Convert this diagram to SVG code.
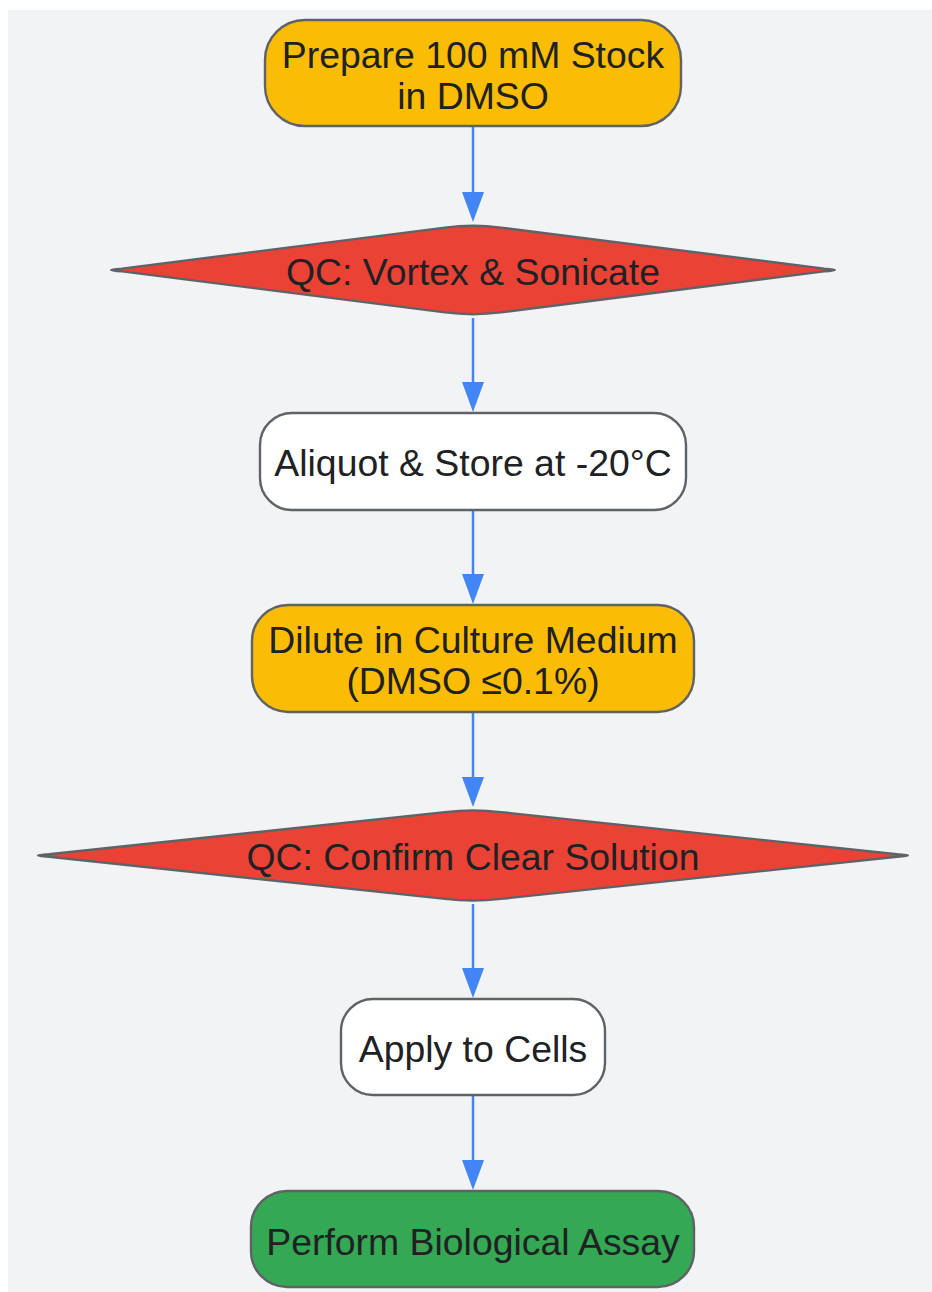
<svg xmlns="http://www.w3.org/2000/svg" width="932" height="1292" viewBox="0 0 932 1292">
<style>
.node{stroke:#5f6368;stroke-width:2.4}
.y{fill:#fbbc04}.r{fill:#ea4335}.w{fill:#ffffff}.g{fill:#34a853}
text{font-family:"Liberation Sans",Arial,sans-serif;font-size:37.4px;fill:#202124;text-anchor:middle}
.edge{stroke:#4285f4;stroke-width:2.5;fill:none}
</style>
<defs>
<marker id="ah" viewBox="0 0 30 22" refX="20" refY="11" markerWidth="30" markerHeight="22" markerUnits="userSpaceOnUse" orient="auto">
<path d="M0,0 L30,11 L0,22 Z" fill="#4285f4"/>
</marker>
</defs>
<rect x="8" y="10" width="924" height="1282" fill="#f1f3f4"/>
<g id="connectors">
<path class="edge" d="M473,127 V212" marker-end="url(#ah)"/>
<path class="edge" d="M473,318 V402" marker-end="url(#ah)"/>
<path class="edge" d="M473,511 V594" marker-end="url(#ah)"/>
<path class="edge" d="M473,713 V797" marker-end="url(#ah)"/>
<path class="edge" d="M473,904 V988" marker-end="url(#ah)"/>
<path class="edge" d="M473,1096 V1180" marker-end="url(#ah)"/>
</g>
<g id="n1">
<rect class="node y" x="265" y="20" width="416" height="106" rx="40"/>
<text x="473" y="68">Prepare 100 mM Stock</text>
<text x="473" y="109">in DMSO</text>
</g>
<g id="n2">
<path class="node r" d="M445,227.6 Q473,224 501,227.6 L824,268.6 Q846,270 824,271.4 L501,312.4 Q473,316 445,312.4 L122,271.4 Q100,270 122,268.6 Z"/>
<text x="473" y="285">QC: Vortex &amp; Sonicate</text>
</g>
<g id="n3">
<rect class="node w" x="260" y="413" width="426" height="97" rx="32"/>
<text x="473" y="476">Aliquot &amp; Store at -20°C</text>
</g>
<g id="n4">
<rect class="node y" x="252" y="605" width="442" height="107" rx="36"/>
<text x="473" y="653">Dilute in Culture Medium</text>
<text x="473" y="694">(DMSO ≤0.1%)</text>
</g>
<g id="n5">
<path class="node r" d="M445,812.1 Q473,809 501,812.1 L897,854.3 Q919,855.5 897,856.7 L501,898.9 Q473,902 445,898.9 L49,856.7 Q27,855.5 49,854.3 Z"/>
<text x="473" y="870">QC: Confirm Clear Solution</text>
</g>
<g id="n6">
<rect class="node w" x="341" y="999" width="264" height="96" rx="32"/>
<text x="473" y="1062">Apply to Cells</text>
</g>
<g id="n7">
<rect class="node g" x="251" y="1191" width="443" height="96" rx="36"/>
<text x="473" y="1255">Perform Biological Assay</text>
</g>
</svg>
